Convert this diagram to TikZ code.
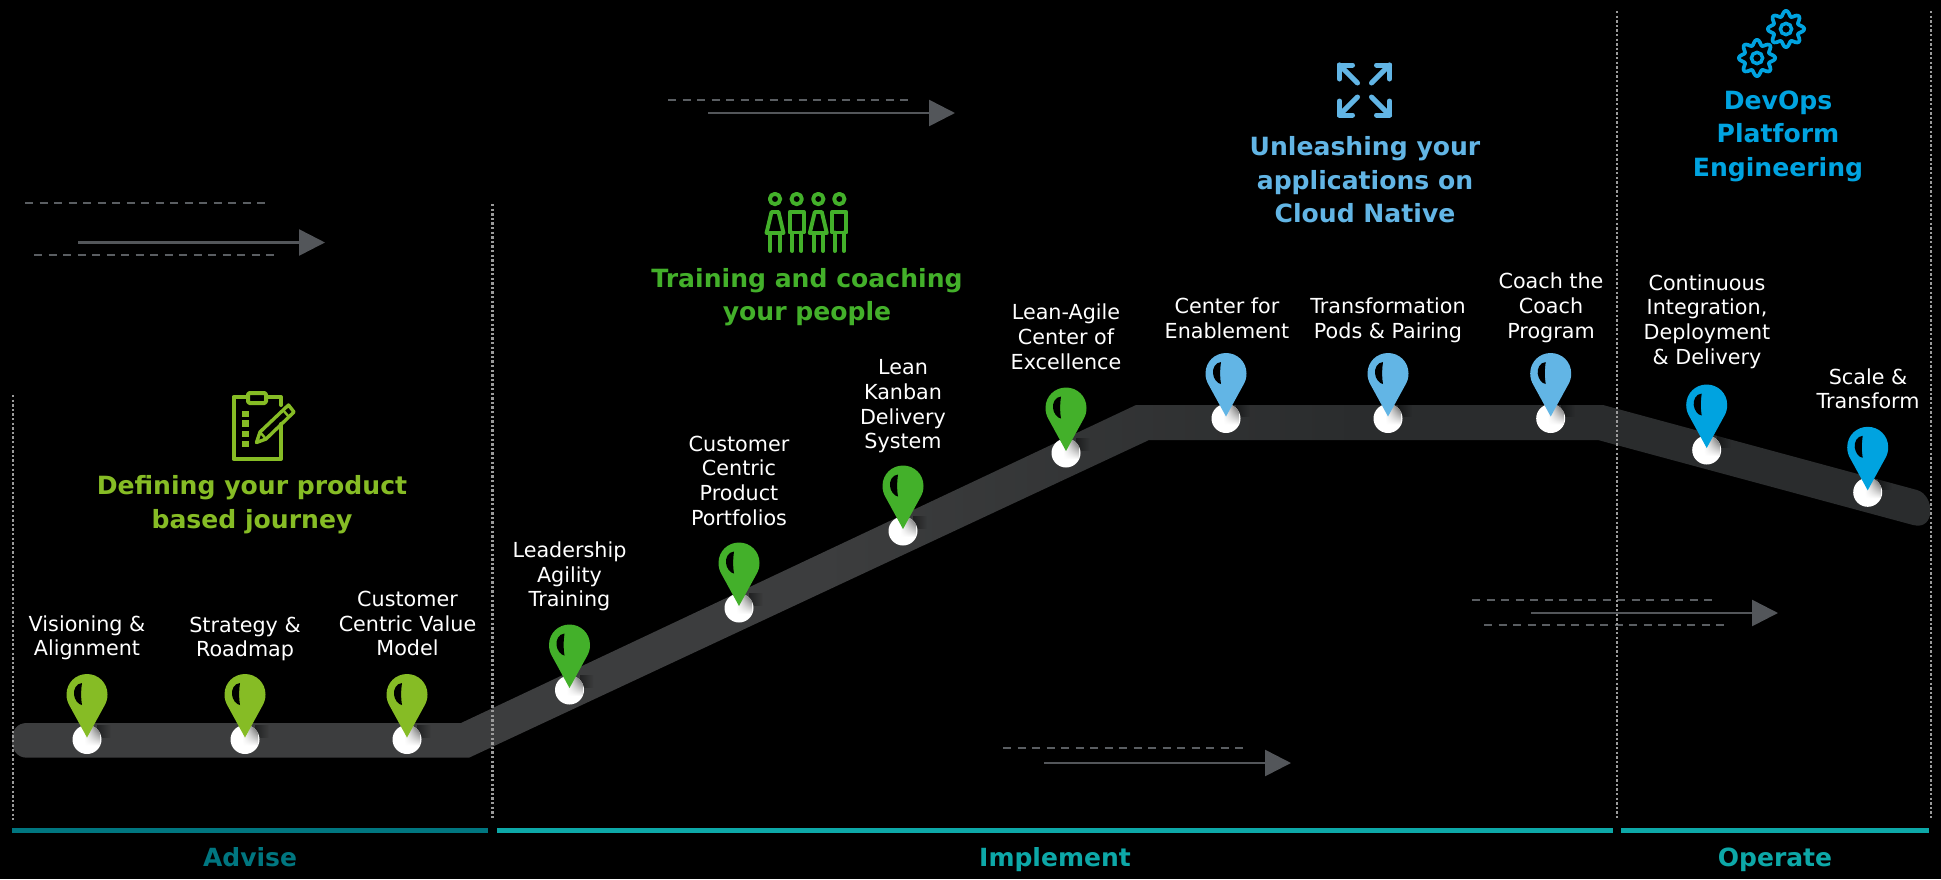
\documentclass[tikz,border=0pt]{standalone}
\usepackage{fontspec}
\setmainfont{DejaVu Sans}
\usetikzlibrary{arrows.meta,fadings,shadings}
\definecolor{lime}{HTML}{86BC25}
\definecolor{grn}{HTML}{43B02A}
\definecolor{sky}{HTML}{62B5E5}
\definecolor{blu}{HTML}{00A3E0}
\definecolor{tealA}{HTML}{007680}
\definecolor{tealB}{HTML}{0DA8A8}
\definecolor{road}{HTML}{3C3D3E}
\definecolor{road2}{HTML}{2A2C2D}
\definecolor{dotc}{HTML}{9A9A9A}
\definecolor{dashc}{HTML}{5A5E62}
\definecolor{arrc}{HTML}{53565A}
\pgfdeclarehorizontalshading{roadsh}{100bp}{color(0bp)=(road); color(46bp)=(road); color(60bp)=(road2); color(100bp)=(road2)}
\tikzfading[name=fr, left color=transparent!55, right color=transparent!100]
\tikzset{
 lbl/.style={text=white,align=center,font=\fontsize{20.7}{24.7}\selectfont,inner sep=0pt,anchor=south,text depth=0pt},
 head/.style={align=center,font=\fontsize{25.1}{33.4}\selectfont\bfseries,inner sep=0pt},
 phase/.style={font=\fontsize{25}{30}\selectfont\bfseries,inner sep=0pt,anchor=base},
 sep/.style={dotc,line width=2.6pt,dash pattern=on 2.4pt off 2.2pt},
 bar/.style={line width=5.5pt},
 dashl/.style={dashc,line width=2.2pt,dash pattern=on 8pt off 6.5pt},
 arrl/.style={arrc,line width=2.6pt,-{Triangle[length=26pt,width=26pt]}},
 dot/.style={circle,fill=white,minimum size=29pt,inner sep=0pt},
}
% pin: x, y of dot centre, colour, name
\newcommand{\pin}[4]{%
 \begin{scope}[shift={(#1,#2)}]
 \fill[black,path fading=fr] (10,-15) rectangle (24,-2);
 \node[dot] (#4) at (0,0) {};
 \begin{scope}
 \clip (0,0) circle (14.5pt);
 \shade[lower left=white,upper left=white,lower right=white,upper right=black!67] (-3,6) rectangle (13,-13);
 \end{scope}
 \fill[#3] (0,-2) -- (-17,-33) .. controls (-19.5,-37) and (-20.5,-41) .. (-20.5,-45)
   .. controls (-20.5,-57) and (-11,-65.5) .. (0,-65.5)
   .. controls (11,-65.5) and (20.5,-57) .. (20.5,-45)
   .. controls (20.5,-41) and (19.5,-37) .. (17,-33) -- cycle;
 \fill[black] (-5,-56.5) .. controls (-11,-56) and (-13.5,-50) .. (-13,-45) .. controls (-12.5,-40) and (-9,-35) .. (-5,-34.5) .. controls (-6.2,-41) and (-6.2,-49) .. (-5,-56.5) -- cycle;
 \end{scope}
}
\newcommand{\gearic}[2]{%
 \draw[blu,line width=3.7pt,line join=round] plot[domain=0:358,samples=80,smooth] ({#1+(15.6+2.6*cos(8*\x))*cos(\x)},{#2+(15.6+2.6*cos(8*\x))*sin(\x)}) -- cycle;
 \draw[blu,line width=3.5pt] (#1,#2) circle (5.6pt);
}
\begin{document}
\begin{tikzpicture}[x=1pt,y=-1pt]
\useasboundingbox[fill=black] (0,0) rectangle (1941,879);
% road
\shade[shading=roadsh] (27,723) -- (461,723) -- (1136,405) -- (1603,405) -- (1917,490)
  .. controls (1935,495) and (1936,531) .. (1913,525)
  -- (1598,440) -- (1149,440) -- (469,757.7) -- (27,757.7)
  .. controls (17,757.7) and (12,750) .. (12,740) .. controls (12,730) and (17,723) .. (27,723) -- cycle;
% decorative dashes + arrows
\draw[dashl] (25,203.3) coordinate (d1a) -- (267,203.3) coordinate (d1b);
\draw[dashl] (34,255) coordinate (d2a) -- (276,255) coordinate (d2b);
\draw[arrl] (78,242.5) coordinate (a1a) -- (325,242.5) coordinate (a1b);
\draw[dashl] (668,100) coordinate (d3a) -- (910,100) coordinate (d3b);
\draw[arrl] (708,113) coordinate (a2a) -- (955,113) coordinate (a2b);
\draw[dashl] (1472,600) coordinate (d4a) -- (1714,600) coordinate (d4b);
\draw[dashl] (1484,625) coordinate (d5a) -- (1726,625) coordinate (d5b);
\draw[arrl] (1531,613) coordinate (a3a) -- (1778,613) coordinate (a3b);
\draw[dashl] (1003,748) coordinate (d6a) -- (1245,748) coordinate (d6b);
\draw[arrl] (1044,763) coordinate (a4a) -- (1291,763) coordinate (a4b);
% separators
\draw[sep] (13,395) coordinate (s1a) -- (13,820) coordinate (s1b);
\draw[sep] (492.7,204) coordinate (s2a) -- (492.7,820) coordinate (s2b);
\draw[sep] (1617,11) coordinate (s3a) -- (1617,820) coordinate (s3b);
\draw[sep] (1931,11) coordinate (s4a) -- (1931,820) coordinate (s4b);
% phase bars
\draw[bar,tealA] (12,830.7) coordinate (b1a) -- (488,830.7) coordinate (b1b);
\draw[bar,tealB] (497,830.7) coordinate (b2a) -- (1613,830.7) coordinate (b2b);
\draw[bar,tealB] (1621,830.7) coordinate (b3a) -- (1929,830.7) coordinate (b3b);
\node[phase,text=tealA] (pAdv) at (250,866) {Advise};
\node[phase,text=tealB] (pImp) at (1055,866) {Implement};
\node[phase,text=tealB] (pOpe) at (1775,866) {Operate};
% pins
\pin{87}{739.5}{lime}{p1}
\pin{245}{739.5}{lime}{p2}
\pin{407}{739.5}{lime}{p3}
\pin{569.5}{690}{grn}{p4}
\pin{739}{608}{grn}{p5}
\pin{903}{531}{grn}{p6}
\pin{1066}{453}{grn}{p7}
\pin{1226}{418.5}{sky}{p8}
\pin{1388}{418.5}{sky}{p9}
\pin{1550.7}{418.5}{sky}{p10}
\pin{1706.7}{450}{blu}{p11}
\pin{1867.7}{492.3}{blu}{p12}
% labels
\node[lbl] (t1) at (87,656) {Visioning \&\\Alignment};
\node[lbl] (t2) at (245,657) {Strategy \&\\Roadmap};
\node[lbl] (t3) at (407.5,656) {Customer\\Centric Value\\Model};
\node[lbl] (t4) at (569.5,607) {Leadership\\Agility\\Training};
\node[lbl] (t5) at (739,525.5) {Customer\\Centric\\Product\\Portfolios};
\node[lbl] (t6) at (903,449) {Lean\\Kanban\\Delivery\\System};
\node[lbl] (t7) at (1066,369.5) {Lean-Agile\\Center of\\Excellence};
\node[lbl] (t8) at (1227,338.5) {Center for\\Enablement};
\node[lbl] (t9) at (1388,338.5) {Transformation\\Pods \& Pairing};
\node[lbl] (t10) at (1551,338.5) {Coach the\\Coach\\Program};
\node[lbl] (t11) at (1707,364.5) {Continuous\\Integration,\\Deployment\\\& Delivery};
\node[lbl] (t12) at (1868,409) {Scale \&\\Transform};
% headings
\node[head,text=lime] (h1) at (252,504.5) {Defining your product\\based journey};
\node[head,text=grn] (h2) at (807,297) {Training and coaching\\your people};
\node[head,text=sky] (h3) at (1365,180) {Unleashing your\\applications on\\Cloud Native};
\node[head,text=blu] (h4) at (1778,136) {DevOps\\Platform\\Engineering};
% clipboard icon
\begin{scope}[lime,line width=4pt,line join=round,line cap=round]
\draw (247,397) -- (233.5,397) -- (233.5,459) -- (281,459) -- (281,424);
\draw (281,405) -- (281,397) -- (267,397);
\draw[rounded corners=1.5pt] (248,393) rectangle (266,403);
\foreach \yy in {414,423.5,434,444}{\fill (242,\yy-3.3) rectangle (249,\yy+3.3);}
\draw[line width=3.4pt] (256.5,442.5) -- (260,432) -- (288.5,405) -- (294,412) -- (266,439) -- cycle;
\draw[line width=2.4pt] (260,432) -- (266,439);
\draw[line width=2.4pt] (283,410) -- (289,417);
\end{scope}
% people icon
\begin{scope}[grn,line width=3.9pt,line cap=round,line join=round]
\foreach \xx/\nn in {775/a,796.7/b,818.3/c,839.3/d}{\draw (\xx,199) circle (5.2pt);}
\foreach \xx in {775,818.3}{
 \draw (\xx-3.5,212) -- (\xx+3.5,212) -- (\xx+8.5,233) -- (\xx-8.5,233) -- cycle;
 \draw (\xx-4.7,233) -- (\xx-4.7,251); \draw (\xx+4.7,233) -- (\xx+4.7,251);}
\foreach \xx in {796.7,839.3}{
 \draw (\xx-7,212) rectangle (\xx+7,232.5);
 \draw (\xx-4.5,232.5) -- (\xx-4.5,251); \draw (\xx+4.5,232.5) -- (\xx+4.5,251);}
\end{scope}
% expand arrows icon
\begin{scope}[sky,line width=5pt,line join=round,line cap=round]
\foreach \sx/\sy in {1/1,-1/1,1/-1,-1/-1}{
 \begin{scope}[shift={(1364.5,90)},xscale=\sx,yscale=\sy]
 \draw (-25,-25) -- (-12,-25);
 \draw (-25,-25) -- (-25,-11);
 \draw (-25,-25) -- (-7,-7);
 \end{scope}}
\end{scope}
% gears icon
\gearic{1786}{29}
\gearic{1757}{58}
\end{tikzpicture}
\end{document}
